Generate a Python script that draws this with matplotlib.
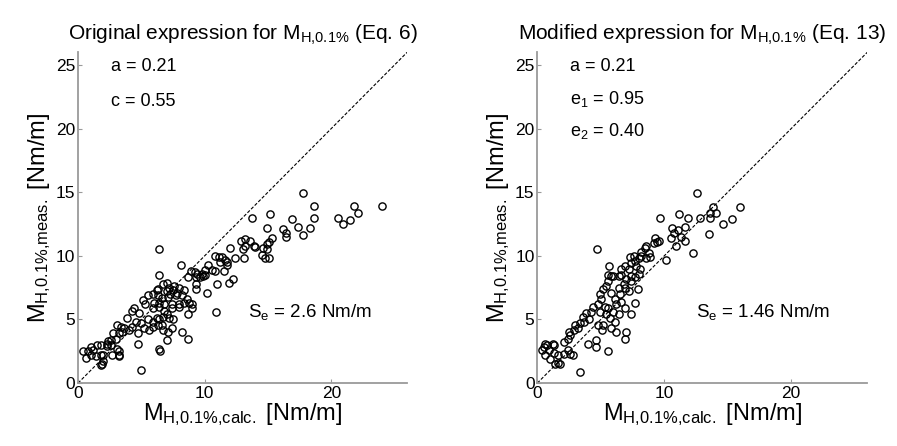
import matplotlib
matplotlib.use("Agg")
import matplotlib.pyplot as plt

plt.rcParams['font.family'] = ['Liberation Sans', 'DejaVu Sans']
plt.rcParams['mathtext.fontset'] = 'custom'
plt.rcParams['mathtext.rm'] = 'Liberation Sans'
plt.rcParams['mathtext.it'] = 'Liberation Sans'
plt.rcParams['mathtext.bf'] = 'Liberation Sans'

# ---- data: left panel (original expression, Eq. 6) ----
orig_calc = [17.8, 18.6, 21.8, 24.0, 22.1, 20.5, 20.9, 21.5, 13.7, 15.2, 16.9, 18.6, 17.4, 18.3, 17.8,
             16.2, 16.4, 16.4, 14.9, 15.3, 15.1, 14.9, 12.9, 13.2, 13.6, 13.9, 13.2, 14.6, 14.96, 14.5,
             14.8, 15.1, 13.0, 13.1, 14.0, 12.0, 12.4, 10.8, 11.1, 11.4, 11.6, 11.8, 11.8, 11.2, 10.3,
             10.6, 10.8, 11.5, 12.2, 11.9, 11.0, 10.2, 10.9, 9.9, 10.0,
             6.4, 8.1, 6.4, 8.9, 9.2, 9.4, 9.8, 10.0, 8.7, 9.3, 9.6, 9.3, 9.3, 8.4, 8.2, 8.6, 8.8, 9.0,
             6.3, 6.7, 7.0, 6.3, 6.6, 5.5, 5.9, 6.2, 5.3, 4.4, 5.1, 6.0, 6.4, 6.8, 7.4, 8.0, 8.4,
             7.2, 7.5, 7.8, 7.0, 7.6, 7.3, 8.0, 7.1, 7.7,
             4.3, 4.8, 5.9, 6.4, 6.8, 7.4, 8.0, 9.0, 8.7, 3.9, 4.6, 5.0, 5.5, 5.9, 6.2, 6.4, 6.7, 7.0,
             7.2, 7.5, 3.1, 3.4, 3.6, 4.0, 4.3, 2.8, 3.2, 3.5, 3.0, 2.6, 2.3, 5.2, 5.6, 5.9, 6.3, 6.7,
             7.1, 7.4, 6.6, 4.7, 4.75, 7.0, 8.2, 8.7, 6.4, 6.5, 5.0, 3.1, 3.2, 3.2, 1.8, 2.3, 2.6, 0.4,
             0.8, 1.2, 1.5, 1.0, 0.6, 1.0, 1.4, 1.8, 2.0, 1.9, 2.0, 1.8, 2.7, 3.2, 2.4]
orig_meas = [14.9, 13.9, 13.9, 13.9, 13.4, 13.0, 12.5, 12.8, 13.0, 13.3, 12.9, 13.0, 12.3, 12.2, 11.6,
             12.1, 11.8, 11.5, 12.2, 11.4, 11.1, 10.9, 11.2, 11.3, 11.2, 10.8, 10.8, 10.6, 10.5, 10.1,
             9.8, 9.8, 10.5, 9.8, 10.7, 10.6, 9.8, 10.0, 9.9, 9.9, 9.7, 9.5, 9.3, 9.5, 9.3,
             8.9, 8.8, 8.8, 8.2, 7.9, 7.8, 7.1, 5.6, 8.4, 8.5,
             10.5, 9.3, 8.5, 8.8, 8.7, 8.6, 8.6, 8.9, 8.3, 8.3, 8.3, 7.8, 7.4, 7.3, 6.9, 6.6, 6.3, 6.2,
             7.4, 7.8, 7.9, 6.9, 6.7, 6.9, 7.0, 7.3, 6.2, 5.9, 6.5, 6.3, 6.3, 6.2, 6.2, 6.2, 6.3,
             7.5, 7.3, 7.1, 7.2, 7.6, 7.0, 7.5, 6.8, 6.9,
             5.7, 5.5, 5.9, 6.0, 5.7, 5.9, 6.0, 5.9, 5.4, 5.1, 4.8, 4.7, 5.0, 4.8, 5.1, 5.0, 5.2, 5.4,
             5.1, 5.0, 4.6, 4.4, 4.3, 4.2, 4.4, 3.9, 3.9, 4.0, 3.5, 3.4, 3.1, 4.3, 4.2, 4.4, 4.6, 4.2,
             4.0, 4.3, 4.6, 3.9, 3.1, 3.4, 4.0, 3.5, 2.7, 2.5, 1.0, 2.7, 2.2, 2.1, 3.0, 2.9, 3.0, 2.5,
             2.5, 2.6, 3.0, 2.8, 2.0, 2.2, 2.1, 2.2, 2.2, 1.5, 1.7, 1.4, 2.2, 2.5, 3.3]

# ---- data: right panel (modified expression, Eq. 13) ----
mod_calc = [12.6, 13.8, 16.0, 13.6, 14.1, 11.2, 11.9, 12.8, 13.6, 9.65, 10.6, 11.1, 11.6, 10.8, 11.3,
            10.5, 11.6, 10.9, 14.6, 15.3, 13.5, 12.3, 10.1, 9.6, 9.4, 9.2, 9.3, 8.6, 8.5, 8.2, 8.8,
            8.9, 8.6, 8.2, 8.0, 7.6, 7.3, 7.7, 7.4, 7.2, 6.9, 6.6, 7.8, 8.1, 4.7, 5.65, 5.6, 6.0, 6.4,
            6.6, 3.4, 5.6, 4.6, 4.0, 4.6, 6.9, 7.0, 6.2, 5.8, 5.1, 4.8, 5.2, 7.4, 7.7, 7.9, 7.4, 7.2,
            6.9, 0.5, 0.9, 0.6, 1.3, 1.6, 1.0, 1.6, 1.4, 1.8, 2.1, 2.4, 1.3, 1.2, 0.8, 0.6, 0.4, 2.8,
            2.6, 2.1, 2.4, 2.6, 2.9, 2.5, 3.2, 3.4, 3.0, 3.7, 4.1, 3.6, 3.8, 4.2, 4.4, 4.8, 5.0, 4.9,
            5.2, 5.4, 5.6, 5.8, 5.6, 6.0, 6.4, 6.2, 6.6, 6.9, 6.1, 6.5, 6.8, 7.0, 7.4, 7.7, 8.0, 6.4,
            5.8, 6.1, 5.7, 5.4, 5.3, 4.9]
mod_meas = [14.9, 13.8, 13.8, 13.4, 13.4, 13.3, 13.0, 13.0, 13.0, 13.0, 12.2, 12.0, 12.3, 11.8, 11.5,
            11.4, 11.2, 10.8, 12.5, 12.9, 11.7, 10.2, 9.7, 11.2, 11.1, 11.0, 11.4, 10.8, 10.6, 10.3, 10.2,
            9.9, 9.8, 10.0, 9.8, 10.0, 9.9, 9.6, 9.4, 9.0, 9.2, 9.0, 9.2, 9.0, 10.5, 9.2, 8.5, 8.4, 8.4,
            8.5, 0.9, 2.5, 2.8, 3.1, 3.4, 3.5, 4.0, 4.0, 4.3, 4.2, 4.6, 4.6, 5.4, 6.3, 7.4, 8.0, 7.2,
            7.5, 2.8, 2.6, 2.2, 2.4, 2.2, 1.9, 1.6, 1.5, 1.5, 2.3, 2.6, 3.0, 3.1, 3.0, 3.1, 2.6, 2.2,
            2.3, 3.2, 3.5, 3.8, 4.2, 4.0, 4.3, 4.7, 4.6, 4.8, 5.0, 5.2, 5.5, 5.6, 6.0, 6.2, 6.6, 7.0,
            7.4, 7.6, 8.0, 8.4, 5.9, 5.6, 5.4, 6.2, 6.4, 5.9, 6.6, 7.0, 7.8, 8.2, 8.4, 8.3, 8.6, 7.5,
            7.1, 4.8, 5.1, 5.4, 6.0, 5.6]

x_ticks = [0, 10, 20]
y_ticks = [0, 5, 10, 15, 20, 25]
axis_max = 26

titles = [r"Original expression for M$_{H{,}0.1\%}$ (Eq. 6)",
          r"Modified expression for M$_{H{,}0.1\%}$ (Eq. 13)"]
param_texts = [[r"a = 0.21", r"c = 0.55"],
               [r"a = 0.21", r"e$_1$ = 0.95", r"e$_2$ = 0.40"]]
se_texts = [r"S$_e$ = 2.6 Nm/m", r"S$_e$ = 1.46 Nm/m"]
xlabel = r"M$_{H{,}0.1\%{,}calc.}$ [Nm/m]"
ylabel = r"M$_{H{,}0.1\%{,}meas.}$ [Nm/m]"

fig = plt.figure(figsize=(8.97, 4.46), dpi=100)
ax1 = fig.add_axes([0.087, 0.141, 0.367, 0.742])
ax2 = fig.add_axes([0.599, 0.141, 0.368, 0.742])

spine_col = '#9a9a9a'
panels = [(ax1, orig_calc, orig_meas), (ax2, mod_calc, mod_meas)]
param_y = [[24.9, 22.1], [24.9, 22.3, 19.8]]
se_x = [13.4, 12.5]
for i, (ax, xs, ys) in enumerate(panels):
    ax.plot([0, axis_max], [0, axis_max], color='black', lw=0.8, ls=(0, (3, 1.6)), zorder=1)
    ax.plot(xs, ys, ls='none', marker='o', ms=5.2, mfc='none', mec='black', mew=1.0, zorder=2)
    ax.set_xlim(0, axis_max)
    ax.set_ylim(0, axis_max)
    ax.set_xticks(x_ticks)
    ax.set_yticks(y_ticks)
    for s in ['top', 'right']:
        ax.spines[s].set_visible(False)
    for s in ['left', 'bottom']:
        ax.spines[s].set_color(spine_col)
        ax.spines[s].set_linewidth(1.3)
    ax.tick_params(direction='in', length=3, width=0.8, color=spine_col,
                   labelsize=12.5, pad=2)
    ax.set_title(titles[i], fontsize=15, pad=9)
    ax.set_xlabel(xlabel, fontsize=17, labelpad=0)
    ax.set_ylabel(ylabel, fontsize=17, labelpad=2)
    for t, yy in zip(param_texts[i], param_y[i]):
        ax.text(2.6, yy, t, fontsize=13, va='center', ha='left')
    ax.text(se_x[i], 5.6, se_texts[i], fontsize=13.5, va='center', ha='left')

fig.savefig('out.png', dpi=100)
